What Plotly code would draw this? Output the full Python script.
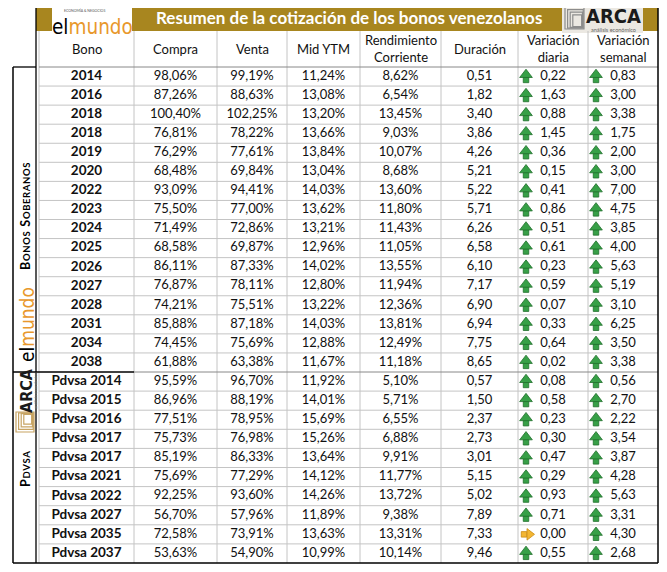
import plotly.graph_objects as go

# ---------------- data ----------------
sov_bonos = ["2014", "2016", "2018", "2018", "2019", "2020", "2022", "2023",
             "2024", "2025", "2026", "2027", "2028", "2031", "2034", "2038"]
sov_compra = [98.06, 87.26, 100.40, 76.81, 76.29, 68.48, 93.09, 75.50,
              71.49, 68.58, 86.11, 76.87, 74.21, 85.88, 74.45, 61.88]
sov_venta = [99.19, 88.63, 102.25, 78.22, 77.61, 69.84, 94.41, 77.00,
             72.86, 69.87, 87.33, 78.11, 75.51, 87.18, 75.69, 63.38]
sov_mid = [11.24, 13.08, 13.20, 13.66, 13.84, 13.04, 14.03, 13.62,
           13.21, 12.96, 14.02, 12.80, 13.22, 14.03, 12.88, 11.67]
sov_rend = [8.62, 6.54, 13.45, 9.03, 10.07, 8.68, 13.60, 11.80,
            11.43, 11.05, 13.55, 11.94, 12.36, 13.81, 12.49, 11.18]
sov_dur = [0.51, 1.82, 3.40, 3.86, 4.26, 5.21, 5.22, 5.71,
           6.26, 6.58, 6.10, 7.17, 6.90, 6.94, 7.75, 8.65]
sov_diaria = [0.22, 1.63, 0.88, 1.45, 0.36, 0.15, 0.41, 0.86,
              0.51, 0.61, 0.23, 0.59, 0.07, 0.33, 0.64, 0.02]
sov_semanal = [0.83, 3.00, 3.38, 1.75, 2.00, 3.00, 7.00, 4.75,
               3.85, 4.00, 5.63, 5.19, 3.10, 6.25, 3.50, 3.38]

pdv_bonos = ["Pdvsa 2014", "Pdvsa 2015", "Pdvsa 2016", "Pdvsa 2017", "Pdvsa 2017",
             "Pdvsa 2021", "Pdvsa 2022", "Pdvsa 2027", "Pdvsa 2035", "Pdvsa 2037"]
pdv_compra = [95.59, 86.96, 77.51, 75.73, 85.19, 75.69, 92.25, 56.70, 72.58, 53.63]
pdv_venta = [96.70, 88.19, 78.95, 76.98, 86.33, 77.29, 93.60, 57.96, 73.91, 54.90]
pdv_mid = [11.92, 14.01, 15.69, 15.26, 13.64, 14.12, 14.26, 11.89, 13.63, 10.99]
pdv_rend = [5.10, 5.71, 6.55, 6.88, 9.91, 11.77, 13.72, 9.38, 13.31, 10.14]
pdv_dur = [0.57, 1.50, 2.37, 2.73, 3.01, 5.15, 5.02, 7.89, 7.33, 9.46]
pdv_diaria = [0.08, 0.58, 0.23, 0.30, 0.47, 0.29, 0.93, 0.71, 0.00, 0.55]
pdv_semanal = [0.56, 2.70, 2.22, 3.54, 3.87, 4.28, 5.63, 3.31, 4.30, 2.68]

headers = ["Bono", "Compra", "Venta", "Mid YTM", "Rendimiento<br>Corriente",
           "Duración", "Variación<br>diaria", "Variación<br>semanal"]
title = "Resumen de la cotización de los bonos venezolanos"
section_labels = ["Bonos soberanos", "Pdvsa"]

# ---------------- layout constants (screen pixels) ----------------
W, H = 667, 572
OFF = 8  # page body margin
X_SIDE, X_FRAME, X_RIGHT = 13, 36, 658
Y_TOP, Y_TITLE, Y_HEAD, Y_SPLIT, Y_BOTTOM = 4, 31, 67, 372, 563
col_edges = [39, 134, 217, 287, 360, 441, 518, 588, 658]
GOLD = "#a8861f"
GRID = "#c4c4c4"
ORANGE = "#e8982c"
GREEN = "#37a047"
GREEN_DARK = "#1f6e2b"
YELLOW = "#f3b632"
NUMFONT = "Lato, Open Sans, sans-serif"
NARROW = "DejaVu Sans, sans-serif"


def fmt(v, pct=True):
    s = f"{v:.2f}".replace(".", ",")
    return s + "%" if pct else s


def cond(s, color):
    return f"<span style='font-stretch:condensed;color:{color}'>{s}</span>"


sections = [
    dict(bonos=sov_bonos, cols=[sov_compra, sov_venta, sov_mid, sov_rend, sov_dur],
         diaria=sov_diaria, semanal=sov_semanal, y0=Y_HEAD, y1=Y_SPLIT),
    dict(bonos=pdv_bonos, cols=[pdv_compra, pdv_venta, pdv_mid, pdv_rend, pdv_dur],
         diaria=pdv_diaria, semanal=pdv_semanal, y0=Y_SPLIT, y1=Y_BOTTOM),
]

centers = [(col_edges[i] + col_edges[i + 1]) / 2 for i in range(len(col_edges) - 1)]

name_x, name_y, name_t = [], [], []
num_x, num_y, num_t = [], [], []
up_head_x, up_head_y, up_stem_x, up_stem_y = [], [], [], []
rt_head_x, rt_head_y, rt_stem_x, rt_stem_y = [], [], [], []
row_bounds = []
for sec in sections:
    n = len(sec["bonos"])
    rh = (sec["y1"] - sec["y0"]) / n
    for i in range(n):
        yc = sec["y0"] + (i + 0.5) * rh
        if i > 0:
            row_bounds.append(sec["y0"] + i * rh)
        name_x.append(centers[0]); name_y.append(yc); name_t.append(sec["bonos"][i])
        for j, col in enumerate(sec["cols"]):
            num_x.append(centers[j + 1]); num_y.append(yc)
            num_t.append(fmt(col[i], pct=(j < 4)))
        for k, series in enumerate([sec["diaria"], sec["semanal"]]):
            edge = col_edges[6 + k]
            v = series[i]
            num_x.append(edge + 35); num_y.append(yc); num_t.append(fmt(v, pct=False))
            if v > 0:
                up_head_x.append(edge + 8); up_head_y.append(yc - 1.8)
                up_stem_x.append(edge + 8); up_stem_y.append(yc + 3.4)
            else:
                rt_head_x.append(edge + 11.5); rt_head_y.append(yc)
                rt_stem_x.append(edge + 6); rt_stem_y.append(yc)

fig = go.Figure()
fig.add_trace(go.Scatter(x=name_x, y=name_y, text=name_t, mode="text",
                         textfont=dict(family=NUMFONT, size=13.5, color="#111111", weight="bold"),
                         hoverinfo="skip", showlegend=False))
fig.add_trace(go.Scatter(x=num_x, y=num_y, text=num_t, mode="text",
                         textfont=dict(family=NUMFONT, size=13, color="#111111"),
                         hoverinfo="skip", showlegend=False))
# arrows built from markers: stem (square) + head (triangle)
fig.add_trace(go.Scatter(x=up_stem_x, y=up_stem_y, mode="markers",
                         marker=dict(symbol="square", size=5.5, color=GREEN, line=dict(width=0.8, color=GREEN_DARK)),
                         hoverinfo="skip", showlegend=False))
fig.add_trace(go.Scatter(x=up_head_x, y=up_head_y, mode="markers",
                         marker=dict(symbol="triangle-up", size=11, color=GREEN, line=dict(width=0.8, color=GREEN_DARK)),
                         hoverinfo="skip", showlegend=False))
fig.add_trace(go.Scatter(x=rt_stem_x, y=rt_stem_y, mode="markers",
                         marker=dict(symbol="square", size=5.5, color=YELLOW, line=dict(width=0.8, color="#c98a12")),
                         hoverinfo="skip", showlegend=False))
fig.add_trace(go.Scatter(x=rt_head_x, y=rt_head_y, mode="markers",
                         marker=dict(symbol="triangle-right", size=10, color=YELLOW, line=dict(width=0.8, color="#c98a12")),
                         hoverinfo="skip", showlegend=False))

shapes = []
def line(x0, y0, x1, y1, color, width=1):
    shapes.append(dict(type="line", xref="x", yref="y", x0=x0, y0=y0, x1=x1, y1=y1,
                       line=dict(color=color, width=width)))
def rect(x0, y0, x1, y1, fill, lc=None, lw=0):
    shapes.append(dict(type="rect", xref="x", yref="y", x0=x0, y0=y0, x1=x1, y1=y1,
                       fillcolor=fill, line=dict(color=lc or fill, width=lw), layer="below"))

# title bar
rect(X_FRAME, Y_TOP, X_RIGHT, Y_TITLE, GOLD)
rect(52, 8, 132, Y_TITLE, "white")
rect(562, Y_TOP, 643, 33, "#ebe8e2")
# grid lines
for yb in row_bounds:
    line(col_edges[0], yb, X_RIGHT, yb, GRID)
for xe in col_edges[:-1]:
    line(xe, Y_TITLE, xe, Y_BOTTOM, GRID)
line(col_edges[0], Y_HEAD, X_RIGHT, Y_HEAD, "#888888")
line(col_edges[1], Y_SPLIT, X_RIGHT, Y_SPLIT, "#888888")
line(X_SIDE, Y_SPLIT, col_edges[1], Y_SPLIT, "black", 1.3)
# frame
line(X_FRAME, Y_TOP, X_RIGHT, Y_TOP, "black", 1.5)
line(X_RIGHT, Y_TOP, X_RIGHT, Y_BOTTOM, "black", 1.5)
line(X_SIDE, Y_BOTTOM, X_RIGHT, Y_BOTTOM, "black", 1.5)
line(X_SIDE, Y_HEAD, X_SIDE, Y_BOTTOM, "black", 1.5)
line(X_FRAME, Y_TOP, X_FRAME, Y_BOTTOM, "black", 1.3)
line(X_SIDE, Y_HEAD, X_FRAME, Y_HEAD, "black", 1.3)
# ARCA icons (nested squares)
for k in range(4):
    d = k * 2.6
    shapes.append(dict(type="rect", xref="x", yref="y", x0=565 + d, y0=7 + d, x1=584 - d * 0.3, y1=29 - d * 0.3,
                       line=dict(color="#8c8c8c", width=1.2), fillcolor="rgba(0,0,0,0)"))
    shapes.append(dict(type="rect", xref="x", yref="y", x0=16 + d, y0=412 + d * 0.3, x1=34 - d * 0.3, y1=432 - d,
                       line=dict(color="#c7a463", width=1.2), fillcolor="rgba(0,0,0,0)"))

ann = []
# title
ann.append(dict(x=349, y=17.5, text=f"<b>{title}</b>", showarrow=False,
                font=dict(family=NUMFONT, size=17, color="white")))
# header labels
for c, h in zip(centers, headers):
    ann.append(dict(x=c, y=(Y_TITLE + Y_HEAD) / 2 - 0.5, text=h, showarrow=False,
                    font=dict(family=NUMFONT, size=13, color="#111111")))
# side section labels (small caps look)
SP = "\u200a"
def smallcaps(s):
    out = []
    for w in s.split(" "):
        out.append(w[0].upper() + SP + "<span style='font-size:9.5px'>" + SP.join(w[1:].upper()) + "</span>")
    return (SP * 2 + " ").join(out)
SIDE_X = (X_SIDE + X_FRAME) / 2 + 0.5
ann.append(dict(x=SIDE_X, y=217, text="<b>" + smallcaps(section_labels[0]) + "</b>",
                textangle=-90, showarrow=False, font=dict(family=NUMFONT, size=12.5, color="black")))
ann.append(dict(x=SIDE_X, y=469, text="<b>" + smallcaps(section_labels[1]) + "</b>",
                textangle=-90, showarrow=False, font=dict(family=NUMFONT, size=12.5, color="black")))
# top elmundo logo
ann.append(dict(x=51, y=27, xanchor="left", text=cond("el", "black") + cond("mundo", ORANGE),
                showarrow=False, borderpad=0, font=dict(family=NARROW, size=20.5)))
ann.append(dict(x=84, y=10.5, text="ECONOMÍA & NEGOCIOS", showarrow=False,
                font=dict(family=NUMFONT, size=3.5, color="#555555")))
# side elmundo logo
ann.append(dict(x=27, y=325, text=cond("el", "black") + cond("mundo", ORANGE),
                textangle=-90, showarrow=False, font=dict(family=NARROW, size=19)))
# top ARCA logo
ann.append(dict(x=613, y=16, text="<b>" + cond("ARCA", "#1a1a1a") + "</b>", showarrow=False,
                font=dict(family=NARROW, size=20)))
ann.append(dict(x=613, y=29.5, text="análisis económico", showarrow=False,
                font=dict(family=NUMFONT, size=5.5, color="#666666")))
# side ARCA logo
ann.append(dict(x=26, y=391, text="<b>" + cond("ARCA", "#1a1a1a") + "</b>", textangle=-90, showarrow=False,
                font=dict(family=NARROW, size=16)))
ann.append(dict(x=35, y=391, text="análisis económico", textangle=-90, showarrow=False,
                font=dict(family=NUMFONT, size=4.5, color="#777777")))

fig.update_layout(
    width=W, height=H, margin=dict(l=0, r=0, t=0, b=0),
    paper_bgcolor="white", plot_bgcolor="white",
    xaxis=dict(range=[OFF, W + OFF], visible=False, fixedrange=True),
    yaxis=dict(range=[H + OFF, OFF], visible=False, fixedrange=True),
    shapes=shapes, annotations=ann, showlegend=False,
)
fig.write_html("out.html")
